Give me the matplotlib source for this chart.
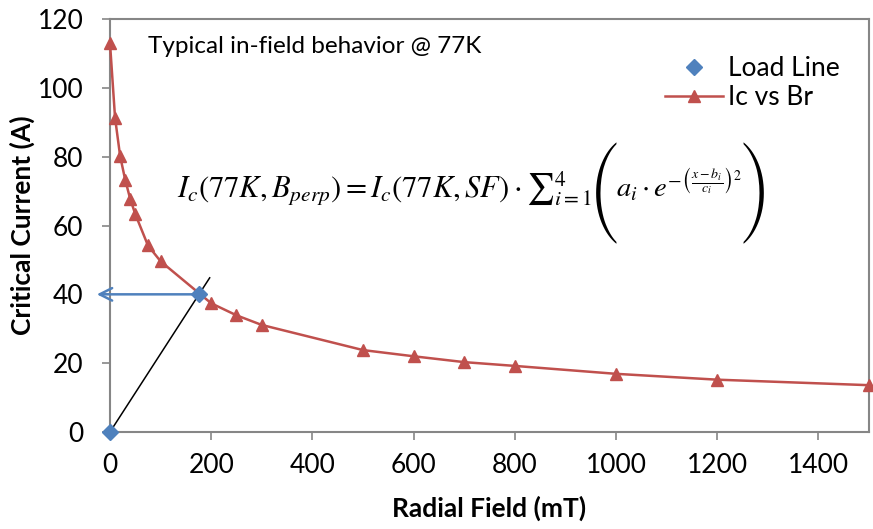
import matplotlib
matplotlib.use("Agg")
import matplotlib.pyplot as plt

plt.rcParams['font.family'] = ['Lato', 'DejaVu Sans']
plt.rcParams['mathtext.fontset'] = 'stix'

blue = '#4F81BD'
red = '#C0504D'
gray = '#868686'

# Ic vs Br data
field = [0, 10, 20, 30, 40, 50, 75, 100, 200, 250, 300, 500, 600, 700, 800, 1000, 1200, 1500]
current = [113, 91.3, 80.2, 73.3, 67.7, 63.3, 54.2, 49.6, 37.4, 33.9, 31.1, 23.8, 22.0, 20.3, 19.2, 16.9, 15.2, 13.6]

# load line
load_x = [0, 176]
load_y = [0, 40]
load_ext_x = [0, 197]
load_ext_y = [0, 44.8]
arrow_to_x = -26

fig = plt.figure(figsize=(8.73, 5.29), dpi=100)
ax = fig.add_axes([0.126, 0.1834, 0.8694, 0.7806])

ax.plot(load_ext_x, load_ext_y, 'k-', lw=1.1, zorder=2)
ax.annotate('', xy=(arrow_to_x, load_y[1]), xytext=(load_x[1], load_y[1]),
            arrowprops=dict(arrowstyle='->,head_length=0.9,head_width=0.45',
                            color=blue, lw=1.8, shrinkA=0, shrinkB=0),
            annotation_clip=False, zorder=3)
ax.plot(field, current, '-', color=red, lw=1.8, marker='^', ms=9,
        mec=red, mfc=red, label='Ic vs Br', clip_on=False, zorder=4)
ax.plot(load_x, load_y, 'D', color=blue, ms=8.5, ls='none',
        label='Load Line', clip_on=False, zorder=5)

ax.set_xlim(0, 1500)
ax.set_ylim(0, 120)
ax.set_xticks(range(0, 1401, 200))
ax.set_yticks(range(0, 121, 20))
ax.tick_params(direction='out', length=6, width=1.2, color=gray, labelsize=19)
ax.tick_params(axis='x', pad=9)
ax.tick_params(axis='y', pad=13)
for s in ax.spines.values():
    s.set_color(gray)
    s.set_linewidth(1.5)

ax.set_xlabel('Radial Field (mT)', fontsize=19, fontweight='bold', labelpad=13)
ax.set_ylabel('Critical Current (A)', fontsize=19, fontweight='bold', labelpad=2)

ax.text(0.05, 0.934, 'Typical in-field behavior @ 77K', transform=ax.transAxes,
        fontsize=17.5, va='center', ha='left')

# equation, built from pieces so the outer brackets can be tall
base_y = 0.568
part1 = r'$I_c\left(77K, B_{perp}\right) = I_c(77K, SF)\cdot{\sum}_{i=1}^{4}$'
part2 = r'$a_i\cdot e^{-\left(\frac{x-b_i}{c_i}\right)^2}$'
big = dict(family='STIXSizeFourSym', fontsize=24, va='center', ha='left',
           textcoords='offset points')
t1 = ax.text(0.088, base_y, part1, transform=ax.transAxes, fontsize=22,
             va='baseline', ha='left')
lp = ax.annotate('(', xy=(1, base_y), xycoords=(t1, 'axes fraction'),
                 xytext=(0, 3), **big)
t2 = ax.annotate(part2, xy=(1, base_y), xycoords=(lp, 'axes fraction'),
                 xytext=(-2, 0), textcoords='offset points', fontsize=20.5,
                 va='baseline', ha='left')
ax.annotate(')', xy=(1, base_y), xycoords=(t2, 'axes fraction'),
            xytext=(-1, 3), **big)

h, l = ax.get_legend_handles_labels()
ax.legend(h[::-1], l[::-1], loc='upper right', bbox_to_anchor=(0.993, 0.968),
          frameon=False, fontsize=19, handlelength=2.2, handletextpad=0.2,
          labelspacing=0.15)

fig.savefig('out.png', dpi=100)
